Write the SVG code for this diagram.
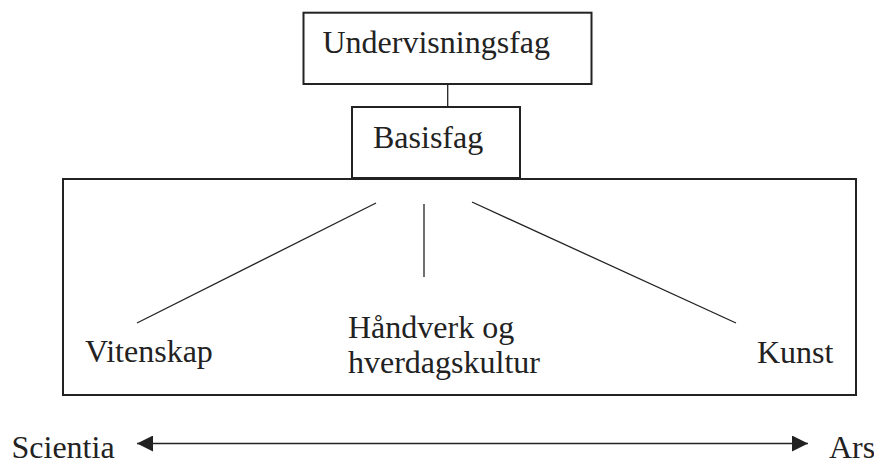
<svg xmlns="http://www.w3.org/2000/svg" width="874" height="463" viewBox="0 0 874 463">
<style>
.box{fill:#fff;stroke:#222;stroke-width:2}
.ln{stroke:#222;stroke-width:1.3;fill:none}
.t{font-family:'Liberation Serif','DejaVu Serif',serif;font-size:32px;fill:#222}
</style>
<defs>
<marker id="ah" markerWidth="16" markerHeight="16" refX="16" refY="8" orient="auto-start-reverse" markerUnits="userSpaceOnUse">
<path d="M0,0 L16,8 L0,16 Z" fill="#222"/>
</marker>
</defs>
<rect width="874" height="463" fill="#fff"/>
<g id="container">
<rect class="box" x="63" y="179" width="793" height="216"/>
</g>
<g id="undervisningsfag">
<rect class="box" x="303.5" y="12.7" width="288" height="71.3"/>
<text class="t" x="322.5" y="53">Undervisningsfag</text>
</g>
<g id="basisfag">
<rect class="box" x="352" y="107" width="168" height="71"/>
<text class="t" x="373" y="148">Basisfag</text>
</g>
<g id="connectors">
<line class="ln" x1="447.7" y1="84" x2="447.7" y2="107"/>
<line class="ln" x1="137" y1="323" x2="376" y2="203"/>
<line class="ln" x1="424" y1="204" x2="424" y2="277"/>
<line class="ln" x1="472" y1="202" x2="736" y2="323"/>
<line class="ln" x1="137" y1="443.5" x2="808" y2="443.5" marker-start="url(#ah)" marker-end="url(#ah)"/>
</g>
<g id="vitenskap">
<text class="t" x="85" y="362">Vitenskap</text>
</g>
<g id="handverk">
<text class="t" x="348" y="338">Håndverk og</text>
<text class="t" x="348" y="373">hverdagskultur</text>
</g>
<g id="kunst">
<text class="t" x="757" y="363">Kunst</text>
</g>
<g id="scientia">
<text class="t" x="11.5" y="457.5" font-size="31">Scientia</text>
</g>
<g id="ars">
<text class="t" x="829" y="457.5" font-size="29">Ars</text>
</g>
</svg>
